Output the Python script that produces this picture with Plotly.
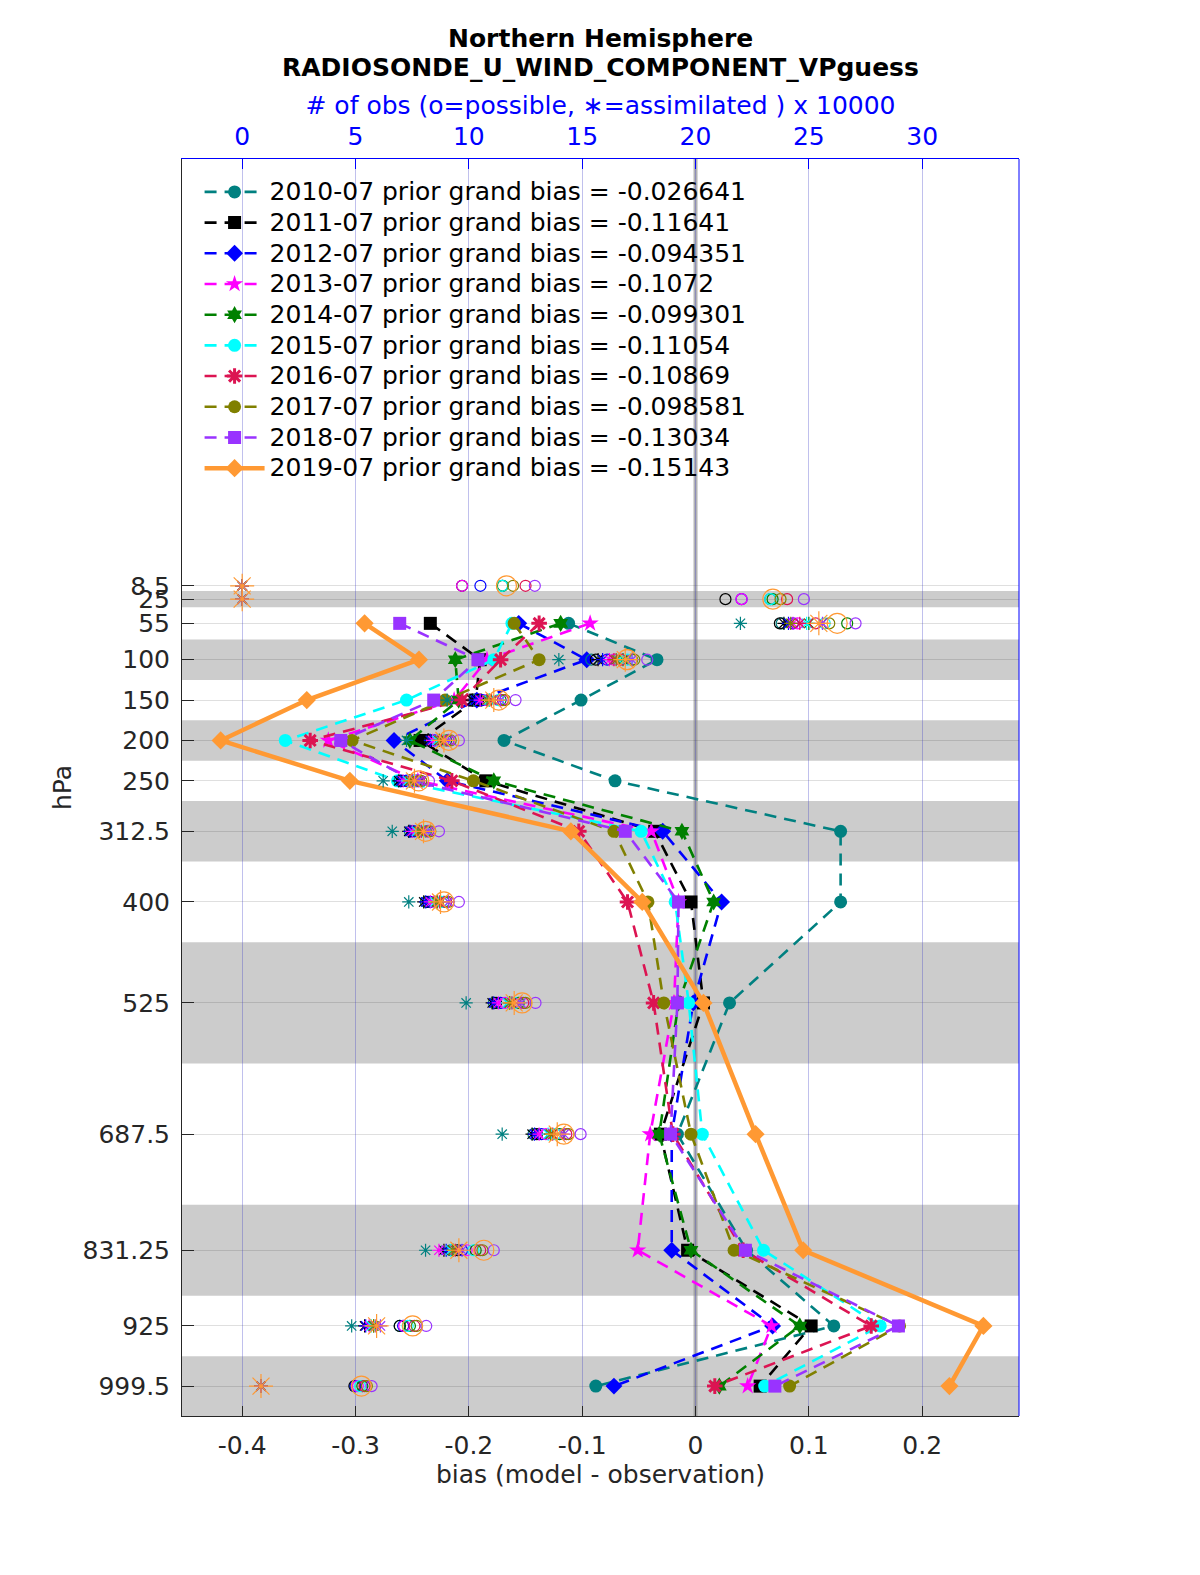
import plotly.graph_objects as go

# ---------------- data ----------------
levels = [8.5, 25, 55, 100, 150, 200, 250, 312.5, 400, 525, 687.5, 831.25, 925, 999.5]
level_labels = ["8.5", "25", "55", "100", "150", "200", "250", "312.5", "400",
                "525", "687.5", "831.25", "925", "999.5"]
layer_edges = [2, 15, 35, 75, 125, 175, 225, 275, 350, 450, 600, 775, 887.5, 962.5, 1036.5]

months = ["2010-07", "2011-07", "2012-07", "2013-07", "2014-07",
          "2015-07", "2016-07", "2017-07", "2018-07", "2019-07"]
grand_bias = ["-0.026641", "-0.11641", "-0.094351", "-0.1072", "-0.099301",
              "-0.11054", "-0.10869", "-0.098581", "-0.13034", "-0.15143"]

N = None
bias_2010 = [N, N, -0.112, -0.034, -0.101, -0.169, -0.071, 0.128, 0.128, 0.030, -0.016, 0.045, 0.122, -0.088]
bias_2011 = [N, N, -0.234, -0.190, -0.194, -0.243, -0.185, -0.036, -0.004, 0.007, -0.031, -0.007, 0.102, 0.057]
bias_2012 = [N, N, -0.156, -0.096, -0.193, -0.266, -0.219, -0.029, 0.023, -0.002, -0.021, -0.021, 0.068, -0.072]
bias_2013 = [N, N, -0.093, -0.184, -0.213, -0.324, -0.245, -0.039, -0.015, -0.019, -0.040, -0.051, 0.067, 0.046]
bias_2014 = [N, N, -0.119, -0.212, -0.209, -0.252, -0.178, -0.012, 0.016, -0.015, -0.032, -0.004, 0.092, 0.021]
bias_2015 = [N, N, -0.162, -0.178, -0.255, -0.362, -0.263, -0.048, -0.018, -0.006, 0.006, 0.060, 0.163, 0.061]
bias_2016 = [N, N, -0.138, -0.172, -0.206, -0.340, -0.215, -0.103, -0.060, -0.037, -0.020, 0.042, 0.155, 0.017]
bias_2017 = [N, N, -0.160, -0.138, -0.221, -0.303, -0.196, -0.072, -0.042, -0.028, -0.004, 0.034, 0.180, 0.083]
bias_2018 = [N, N, -0.261, -0.192, -0.231, -0.313, -0.250, -0.062, -0.015, -0.016, -0.022, 0.044, 0.179, 0.070]
bias_2019 = [N, N, -0.292, -0.244, -0.343, -0.419, -0.305, -0.110, -0.047, 0.007, 0.053, 0.095, 0.254, 0.224]

# number of obs possible (x 10000)
poss_2010 = [11.47, 23.30, 23.80, 15.40, 10.25, 8.30, 6.95, 7.40, 8.10, 11.10, 12.85, 9.20, 6.95, 4.98]
poss_2011 = [9.70, 21.32, 23.72, 15.60, 10.40, 8.30, 7.05, 7.50, 8.20, 11.20, 13.00, 9.50, 6.95, 4.95]
poss_2012 = [10.51, 22.03, 24.30, 16.10, 10.60, 8.50, 7.20, 7.60, 8.30, 11.40, 13.20, 9.70, 7.10, 5.00]
poss_2013 = [9.70, 22.03, 24.50, 16.40, 10.80, 8.60, 7.40, 7.80, 8.50, 11.60, 13.40, 9.90, 7.15, 5.10]
poss_2014 = [11.50, 23.40, 26.69, 17.20, 11.40, 9.00, 7.70, 8.10, 8.90, 12.20, 14.00, 10.30, 7.40, 5.30]
poss_2015 = [11.47, 23.30, 25.70, 17.00, 11.30, 8.90, 7.60, 8.00, 8.80, 12.00, 13.80, 10.20, 7.30, 5.20]
poss_2016 = [12.50, 24.04, 25.30, 16.70, 11.50, 9.10, 7.80, 8.20, 9.00, 12.40, 14.30, 10.50, 7.60, 5.40]
poss_2017 = [11.95, 23.75, 25.90, 17.30, 11.60, 9.20, 7.90, 8.30, 9.10, 12.50, 14.40, 10.60, 7.70, 5.50]
poss_2018 = [12.91, 24.78, 27.06, 17.87, 12.06, 9.56, 8.24, 8.68, 9.56, 12.94, 14.93, 11.10, 8.12, 5.71]
poss_2019 = [11.66, 23.41, 26.25, 16.98, 11.32, 9.12, 7.79, 8.09, 8.90, 12.35, 14.19, 10.66, 7.52, 5.26]

# number of obs assimilated (x 10000)
used_2010 = [0, 0, 21.98, 13.97, 9.04, 7.25, 6.22, 6.62, 7.35, 9.88, 11.47, 8.09, 4.83, 0.83]
used_2011 = [0, 0, 23.90, 15.70, 10.15, 8.24, 6.91, 7.35, 8.01, 11.03, 12.79, 8.90, 5.40, 0.83]
used_2012 = [0, 0, 24.10, 15.90, 10.30, 8.30, 7.00, 7.40, 8.10, 11.10, 12.90, 9.00, 5.45, 0.83]
used_2013 = [0, 0, 24.30, 16.20, 10.50, 8.40, 7.10, 7.50, 8.30, 11.30, 13.10, 8.68, 5.60, 0.83]
used_2014 = [0, 0, 25.00, 16.80, 10.90, 8.70, 7.40, 7.80, 8.60, 11.80, 13.60, 9.30, 5.80, 0.83]
used_2015 = [0, 0, 24.90, 16.60, 10.90, 8.60, 7.30, 7.70, 8.50, 11.70, 13.50, 9.20, 5.70, 0.83]
used_2016 = [0, 0, 24.60, 16.40, 11.00, 8.80, 7.50, 7.90, 8.70, 11.90, 13.70, 9.40, 5.90, 0.83]
used_2017 = [0, 0, 24.20, 16.50, 10.80, 8.70, 7.40, 7.80, 8.60, 11.80, 13.60, 9.30, 5.80, 0.83]
used_2018 = [0, 0, 25.60, 17.20, 11.40, 9.10, 7.80, 8.20, 9.10, 12.30, 14.20, 9.70, 6.10, 0.83]
used_2019 = [0, 0, 25.44, 16.90, 11.10, 8.90, 7.60, 8.00, 8.75, 12.00, 13.90, 9.56, 5.93, 0.83]

bias_ticks = [-0.4, -0.3, -0.2, -0.1, 0, 0.1, 0.2]
bias_tick_labels = ["-0.4", "-0.3", "-0.2", "-0.1", "0", "0.1", "0.2"]
obs_ticks = [0, 5, 10, 15, 20, 25, 30]

bias_all = [bias_2010, bias_2011, bias_2012, bias_2013, bias_2014,
            bias_2015, bias_2016, bias_2017, bias_2018, bias_2019]
poss_all = [poss_2010, poss_2011, poss_2012, poss_2013, poss_2014,
            poss_2015, poss_2016, poss_2017, poss_2018, poss_2019]
used_all = [used_2010, used_2011, used_2012, used_2013, used_2014,
            used_2015, used_2016, used_2017, used_2018, used_2019]

# ---------------- styles ----------------
colors = ["#008080", "#000000", "#0000ff", "#ff00ff", "#008000",
          "#00ffff", "#dc1452", "#808000", "#9933ff", "#ff9933"]
symbols = ["circle", "square", "diamond", "star", "hexagram",
           "circle", "asterisk-open", "circle", "square", "diamond"]

FONT = "DejaVu Sans"
TXT = "#262626"

# bias axis range; obs axis is tied to it (obs 0 at bias -0.4, 5 per 0.1)
xr = [-0.4531, 0.2854]
xr2 = [(xr[0] + 0.4) * 50, (xr[1] + 0.4) * 50]
yr = [1036.5, -520]

ML, MR, MT, MB = 174, 189, 151, 167
PH = 1575 - MT - MB

fig = go.Figure()

for i in range(10):
    last = (i == 9)
    mk = dict(symbol=symbols[i], size=13 if not last else 14, color=colors[i],
              line=dict(width=3 if symbols[i] == "asterisk-open" else 0, color=colors[i]))
    fig.add_trace(go.Scatter(
        x=bias_all[i], y=levels, mode="lines+markers",
        name=f'<span style="font-size:25px">{months[i]} prior grand bias = {grand_bias[i]}</span>',
        line=dict(color=colors[i], width=4.5 if last else 2.6,
                  dash="solid" if last else "12px,8px"),
        marker=mk, connectgaps=False, xaxis="x", yaxis="y",
    ))

for i in range(10):
    last = (i == 9)
    sz = 20 if last else 11
    fig.add_trace(go.Scatter(
        x=poss_all[i], y=levels, mode="markers", showlegend=False,
        marker=dict(symbol="circle-open", size=sz, color=colors[i],
                    line=dict(width=1.2, color=colors[i])),
        xaxis="x2", yaxis="y", hoverinfo="x+y",
    ))
    fig.add_trace(go.Scatter(
        x=used_all[i], y=levels, mode="markers", showlegend=False,
        marker=dict(symbol="asterisk-open", size=sz, color=colors[i],
                    line=dict(width=1.2, color=colors[i])),
        xaxis="x2", yaxis="y", hoverinfo="x+y",
    ))

# shaded alternating layers
for k in range(1, len(layer_edges) - 1, 2):
    fig.add_shape(type="rect", xref="paper", yref="y", x0=0, x1=1,
                  y0=layer_edges[k], y1=layer_edges[k + 1],
                  fillcolor="#cccccc", line=dict(width=0), layer="below")
# zero bias line
fig.add_shape(type="line", xref="x", yref="paper", x0=0, x1=0, y0=0, y1=1,
              line=dict(color="rgba(140,140,140,0.65)", width=4), layer="below")
# right frame (blue, from the obs axes)
fig.add_shape(type="line", xref="paper", yref="paper", x0=1, x1=1, y0=0, y1=1,
              line=dict(color="#0000ff", width=1), layer="above")

# title lines
fig.add_annotation(text="<b>Northern Hemisphere</b>", xref="paper", yref="paper",
                   x=0.5, y=1 + (MT + 6 - 36) / PH, xanchor="center", yanchor="middle",
                   showarrow=False, font=dict(family=FONT, size=25, color="#000000"))
fig.add_annotation(text="<b>RADIOSONDE_U_WIND_COMPONENT_VPguess</b>", xref="paper", yref="paper",
                   x=0.5, y=1 + (MT + 6 - 65) / PH, xanchor="center", yanchor="middle",
                   showarrow=False, font=dict(family=FONT, size=25, color="#000000"))

fig.update_layout(
    width=1200, height=1575,
    margin=dict(l=ML, r=MR, t=MT, b=MB),
    paper_bgcolor="white", plot_bgcolor="white",
    font=dict(family=FONT, size=24, color=TXT),
    xaxis=dict(range=xr, tickvals=bias_ticks, ticktext=bias_tick_labels,
               showgrid=False, zeroline=False, showline=True, linecolor=TXT, linewidth=1,
               ticks="inside", ticklen=10, tickcolor=TXT, ticklabelstandoff=7,
               tickfont=dict(family=FONT, size=25, color=TXT),
               title=dict(text="bias (model - observation)", standoff=6,
                          font=dict(family=FONT, size=25, color=TXT))),
    xaxis2=dict(range=xr2, overlaying="x", side="top", anchor="y",
                tickvals=obs_ticks, showgrid=True, gridcolor="rgba(60,60,200,0.32)", gridwidth=1,
                zeroline=False, showline=True, linecolor="#0000ff", linewidth=1,
                ticks="inside", ticklen=10, tickcolor="#0000ff", ticklabelstandoff=3,
                tickfont=dict(family=FONT, size=25, color="#0000ff"),
                title=dict(text="# of obs (o=possible, \u2217=assimilated ) x 10000", standoff=0,
                           font=dict(family=FONT, size=25, color="#0000ff"))),
    yaxis=dict(range=yr, tickvals=levels, ticktext=level_labels,
               showgrid=True, gridcolor="rgba(38,38,38,0.15)", gridwidth=1,
               zeroline=False, showline=True, linecolor=TXT, linewidth=1,
               ticks="inside", ticklen=12, tickcolor=TXT, ticklabelstandoff=6,
               tickfont=dict(family=FONT, size=25, color=TXT),
               title=dict(text="hPa", standoff=3,
                          font=dict(family=FONT, size=25, color=TXT))),
    legend=dict(x=0.021, y=0.990, xanchor="left", yanchor="top",
                bgcolor="rgba(0,0,0,0)", borderwidth=0, itemwidth=60,
                font=dict(family=FONT, size=21.3, color="#000000"),
                tracegroupgap=0),
    showlegend=True,
)

fig.write_html("out.html")
